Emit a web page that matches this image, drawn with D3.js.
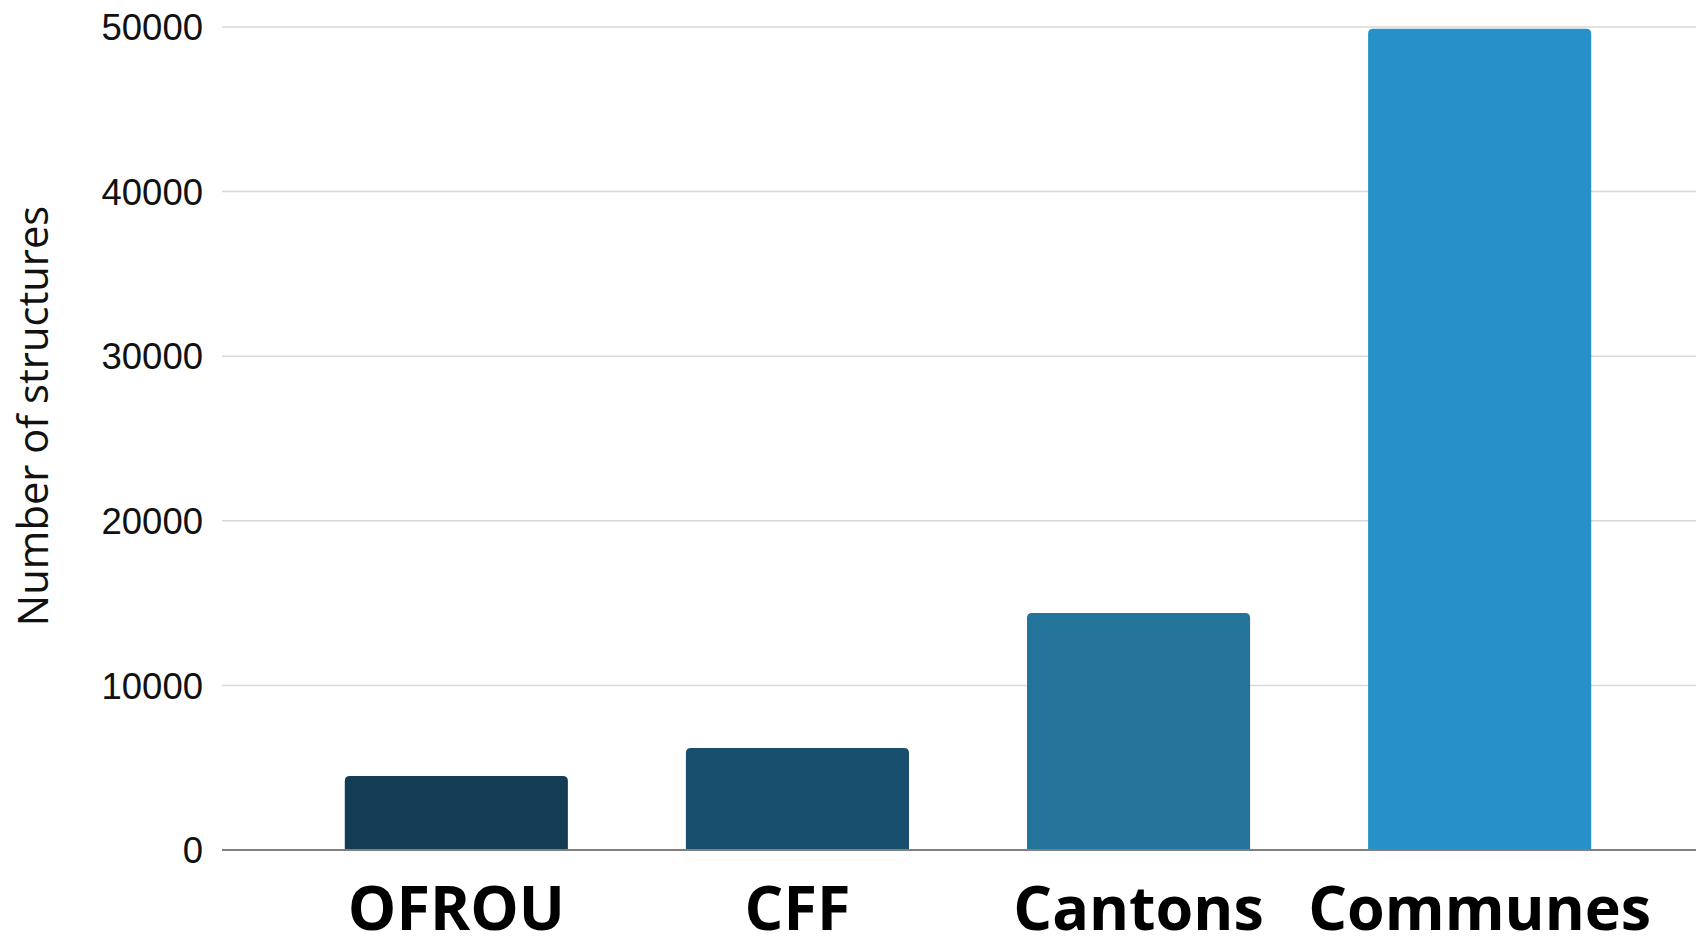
<!DOCTYPE html>
<html><head><meta charset="utf-8">
<script src="https://cdn.jsdelivr.net/npm/d3@7"></script>
<style>html,body{margin:0;padding:0;background:#fff;overflow:hidden}</style>
</head><body>
<svg id="chart" width="1696" height="938"></svg>
<script>
const categories = ["OFROU", "CFF", "Cantons", "Communes"];
const values = [4500, 6200, 14400, 49900];
const barColors = ["#133c55", "#184e6e", "#23739b", "#2690c8"];
const yTicks = [0, 10000, 20000, 30000, 40000, 50000];
const yTitle = "Number of structures";

(function () {
const svg = d3.select("#chart");
const W = 1696, H = 938;
const plotLeft = 222, plotTop = 27, plotBottom = 850;

const x = d3.scaleBand().domain(categories).range([plotLeft, 1714]).paddingInner(0.346).paddingOuter(0.36);
const y = d3.scaleLinear().domain([0, 50000]).range([plotBottom, plotTop]);

// gridlines
svg.append("g").selectAll("line").data(yTicks.filter(d => d > 0)).join("line")
  .attr("x1", plotLeft).attr("x2", W)
  .attr("y1", d => y(d)).attr("y2", d => y(d))
  .attr("stroke", "#d9d9d9").attr("stroke-width", 1.5);

// y axis labels
const yAxis = d3.axisLeft(y).tickValues(yTicks).tickSize(0).tickPadding(0).tickFormat(d3.format("d"));
const gy = svg.append("g").attr("transform", `translate(${203},0)`).call(yAxis);
gy.select(".domain").remove();
gy.selectAll("text").attr("font-family", "'Liberation Sans', Arial, sans-serif")
  .attr("font-size", 36.5).attr("fill", "#111").attr("dy", "0.35em");

// bars with rounded top corners
const r = 5;
svg.append("g").selectAll("path").data(categories).join("path")
  .attr("d", (c, i) => {
    const x0 = x(c), x1 = x(c) + x.bandwidth(), y0 = y(values[i]), yb = y(0);
    return `M${x0},${yb}V${y0 + r}Q${x0},${y0} ${x0 + r},${y0}H${x1 - r}Q${x1},${y0} ${x1},${y0 + r}V${yb}Z`;
  })
  .attr("fill", (c, i) => barColors[i]);

// baseline
svg.append("line").attr("x1", plotLeft).attr("x2", W).attr("y1", y(0)).attr("y2", y(0))
  .attr("stroke", "#7f7f7f").attr("stroke-width", 2);

// x labels
const xAxis = d3.axisBottom(x).tickSize(0).tickPadding(0);
const gx = svg.append("g").attr("transform", `translate(0,${plotBottom})`).call(xAxis);
gx.select(".domain").remove();
gx.selectAll("text").attr("font-family", "'Open Sans', 'Noto Sans', sans-serif").attr("font-weight", 700)
  .attr("font-size", 61).attr("fill", "#000").attr("dy", null).attr("y", 80);

// y title
svg.append("text").attr("transform", `translate(48,416) rotate(-90)`)
  .attr("text-anchor", "middle")
  .attr("font-family", "'Open Sans', sans-serif").attr("font-size", 41.7).attr("fill", "#111")
  .text(yTitle);
})();
</script>
</body></html>
